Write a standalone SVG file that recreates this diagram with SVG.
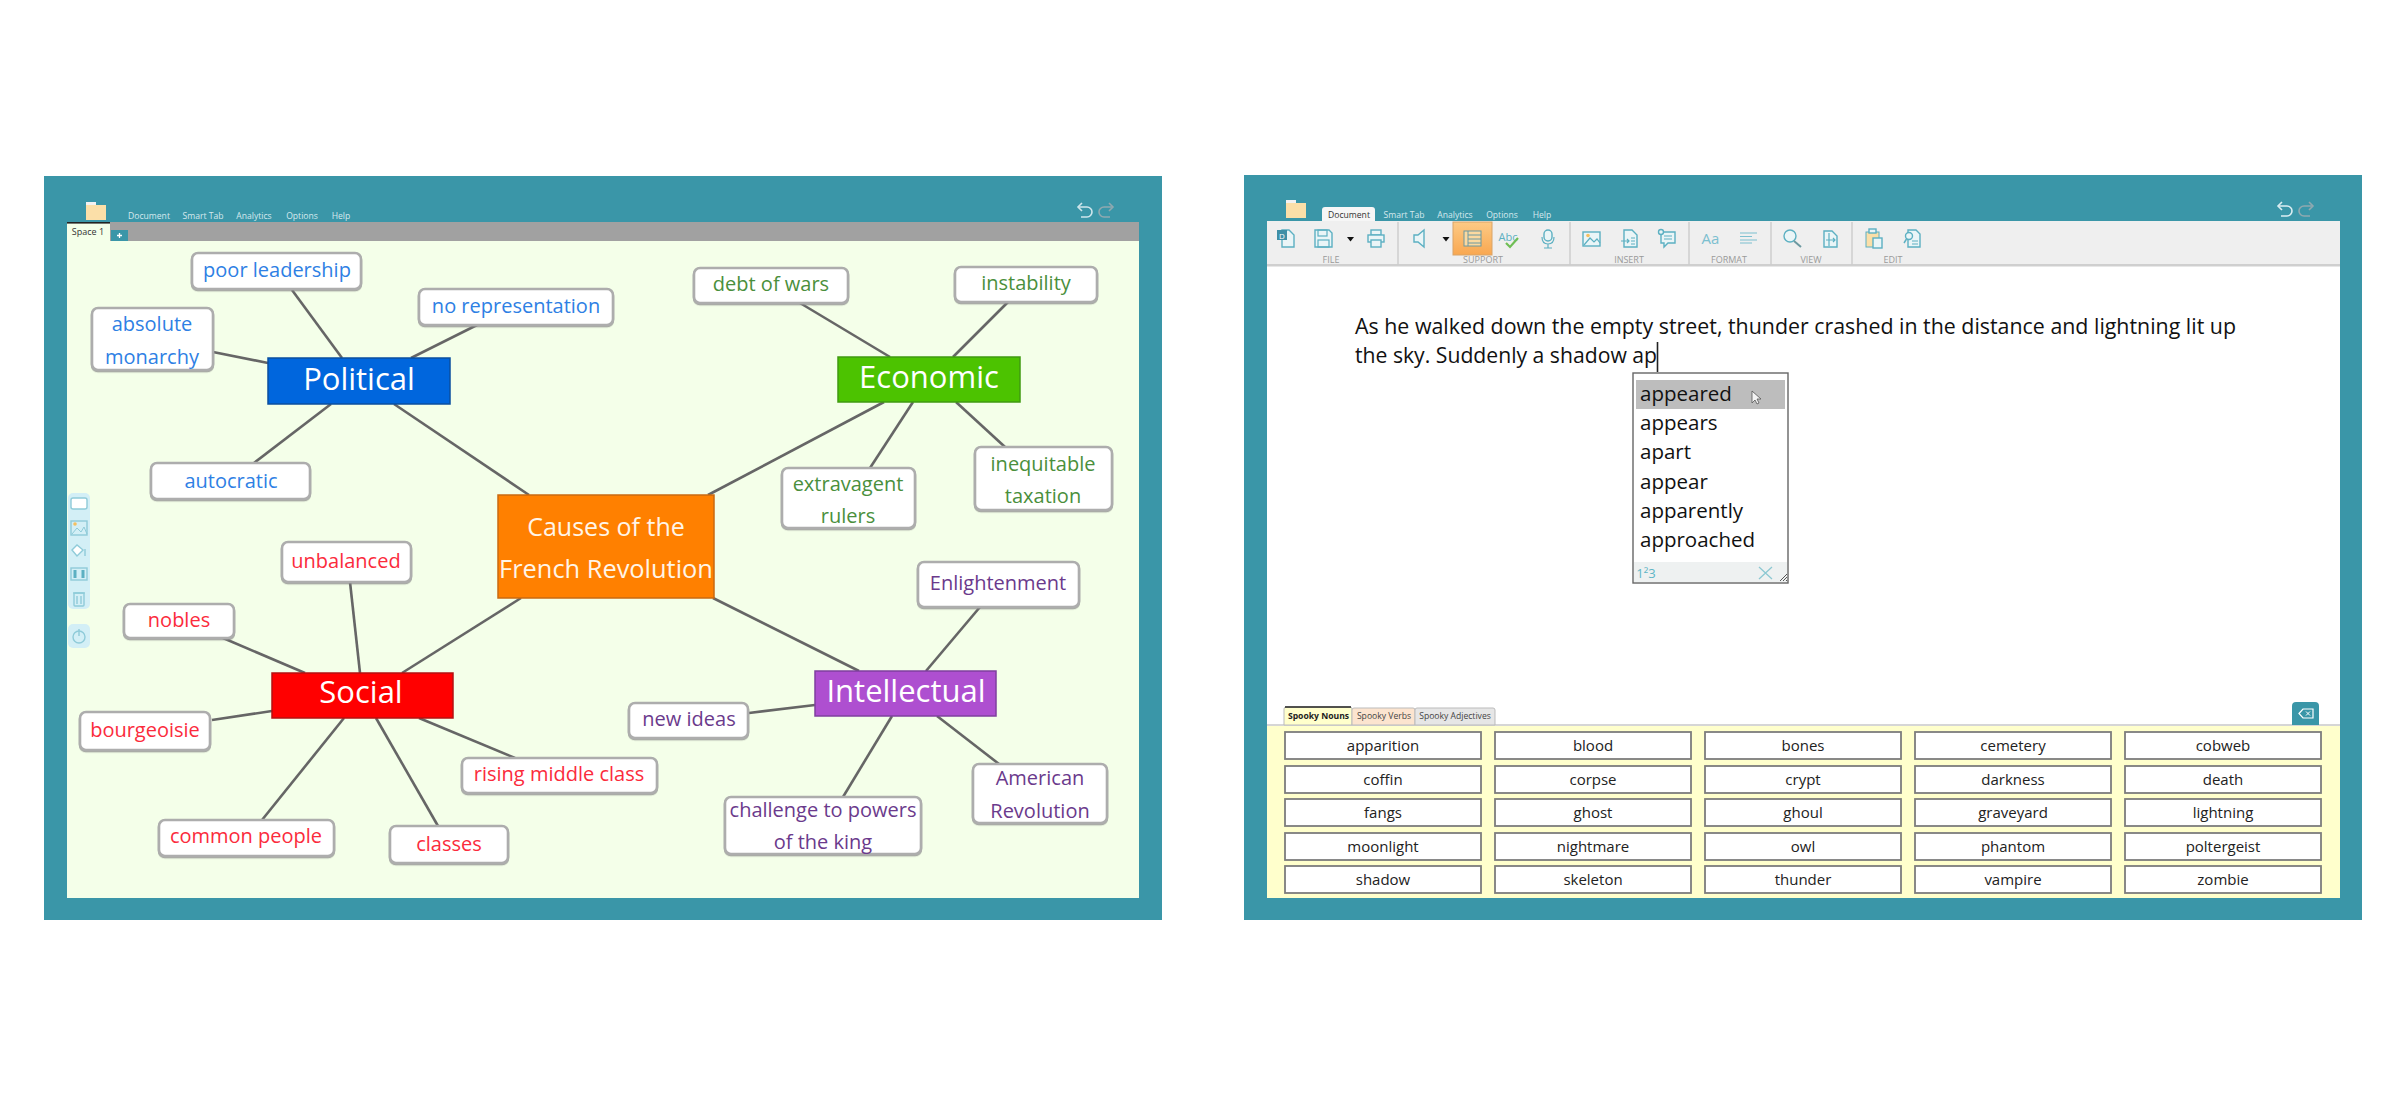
<svg xmlns="http://www.w3.org/2000/svg" width="2406" height="1094" viewBox="0 0 2406 1094">
<style>
text{font-family:"Open Sans","Noto Sans","Liberation Sans",sans-serif;text-anchor:middle}
.lab{font-size:20px}
.leaf{fill:#fff;stroke:#adadad;stroke-width:2.6;filter:url(#sh)}
.hubt{font-size:31px;fill:#fff}
.blue{fill:#2e80e4}.green{fill:#4a8f3c}.red{fill:#fb2b3c}.purple{fill:#6b3a8c}
.conn line{stroke:#666;stroke-width:2.6}
.menu{font-size:8.6px;fill:#d5e9ee}
.grp{font-size:9px;fill:#9a9a9a}
.ic{fill:#eaf5f7;stroke:#5cb0c2;stroke-width:1.4}
.in{fill:none;stroke:#5cb0c2;stroke-width:1.2}
.body{font-size:21px;fill:#111;text-anchor:start}
.sug{font-size:20.5px;fill:#111;text-anchor:start}
.btn{fill:#fff;stroke:#7d7d7d;stroke-width:1.8}
.w{font-size:15px;fill:#222}
.tab{font-size:8.6px;fill:#444}
.tb{fill:none;stroke:#8fcbd9;stroke-width:1.4}
</style>
<defs>
<filter id="sh" x="-5%" y="-10%" width="110%" height="125%"><feDropShadow dx="0" dy="1.2" stdDeviation=".6" flood-color="#888" flood-opacity=".7"/></filter>
<linearGradient id="hl" x1="0" y1="0" x2="0" y2="1"><stop offset="0" stop-color="#fdca85"/><stop offset="1" stop-color="#f9a750"/></linearGradient>
<g id="folder"><rect x="0" y="0" width="10" height="4" fill="#f2f2f2"/><rect x="0" y="3" width="20" height="15" fill="#fbdfa8"/></g>
<g id="undo" fill="none" stroke-width="1.6"><path d="M3 5H11A5 5 0 0 1 11 15H5"/><path d="M6 1L2 5L6 9"/></g>
<g id="redo" fill="none" stroke-width="1.6"><path d="M13 5H5A5 5 0 0 0 5 15H11"/><path d="M10 1L14 5L10 9"/></g>
<path id="tri" d="M-3.5 -2H3.5L0 2.5Z" fill="#111"/>
</defs>

<g id="left-window">
<rect x="44" y="176" width="1118" height="744" fill="#3a96a8"/>
<rect x="67" y="222" width="1072" height="676" fill="#f4ffe9"/>
<rect x="67" y="222" width="1072" height="19" fill="#a1a1a1"/>
<use href="#folder" x="86" y="202"/>
<text class="menu" x="149" y="219">Document</text>
<text class="menu" x="203" y="219">Smart Tab</text>
<text class="menu" x="254" y="219">Analytics</text>
<text class="menu" x="302" y="219">Options</text>
<text class="menu" x="341" y="219">Help</text>
<use href="#undo" x="1076" y="202" stroke="#cfe6ec"/>
<use href="#redo" x="1099" y="202" stroke="#8fa9b0"/>
<rect x="67" y="222" width="43" height="19" fill="#f4ffe9"/>
<rect x="67" y="222" width="43" height="1.6" fill="#222"/>
<text x="88" y="235" style="font-size:9px;fill:#333">Space 1</text>
<rect x="111" y="230" width="17" height="11" fill="#3a96a8"/>
<path d="M119.5 233V238M117 235.5H122" stroke="#fff" stroke-width="1.3"/>
<g id="side-tools">
<rect x="68" y="493" width="22" height="116" rx="5" fill="#d3eff6"/>
<rect x="68" y="624" width="22" height="24" rx="5" fill="#d3eff6"/>
<rect class="tb" x="71" y="498" width="16" height="11" rx="2" style="fill:#fff"/>
<rect class="tb" x="71" y="521" width="16" height="14"/>
<path d="M72 534L77 528L81 532L84 527L87 534" fill="none" stroke="#8fcbd9"/><circle cx="75" cy="524" r="1.8" fill="#f5c060"/>
<path class="tb" d="M72 550L77 545L83 550L77 556ZM85 549V556" style="fill:#fff"/>
<rect class="tb" x="71" y="568" width="16" height="12"/>
<path d="M75 570V578M83 570V578" stroke="#5cb0c2" stroke-width="3"/>
<rect class="tb" x="74" y="593" width="10" height="13" rx="1"/>
<path class="tb" d="M73 593H85M77 596V604M81 596V604"/>
<circle class="tb" cx="79" cy="637" r="6"/>
<path class="tb" d="M79 629V636"/>
</g>
</g>

<g id="connectors" class="conn">
<line x1="292" y1="290" x2="342" y2="358"/>
<line x1="477" y1="325" x2="411" y2="358"/>
<line x1="213" y1="352" x2="268" y2="363"/>
<line x1="331" y1="404" x2="254" y2="463"/>
<line x1="394" y1="404" x2="529" y2="495"/>
<line x1="800" y1="303" x2="890" y2="357"/>
<line x1="1008" y1="302" x2="953" y2="357"/>
<line x1="884" y1="402" x2="708" y2="495"/>
<line x1="913" y1="402" x2="870" y2="468"/>
<line x1="956" y1="402" x2="1005" y2="447"/>
<line x1="521" y1="598" x2="402" y2="673"/>
<line x1="713" y1="598" x2="859" y2="671"/>
<line x1="980" y1="607" x2="926" y2="671"/>
<line x1="350" y1="582" x2="360" y2="673"/>
<line x1="223" y1="638" x2="305" y2="673"/>
<line x1="212" y1="720" x2="272" y2="711"/>
<line x1="419" y1="718" x2="515" y2="758"/>
<line x1="344" y1="718" x2="262" y2="820"/>
<line x1="376" y1="718" x2="438" y2="826"/>
<line x1="749" y1="713" x2="815" y2="705"/>
<line x1="892" y1="716" x2="843" y2="797"/>
<line x1="937" y1="716" x2="999" y2="764"/>
</g>

<g id="node-causes"><rect x="498" y="495" width="216" height="103" fill="#ff8000" stroke="#c96a10" stroke-width="1.5"/><text x="606" y="536" style="font-size:25px;fill:#fff5e8">Causes of the</text><text x="606" y="578" style="font-size:25.4px;fill:#fff5e8">French Revolution</text></g>
<g id="node-political"><rect x="268" y="358" width="182" height="46" fill="#0066dd" stroke="#0a4f9f" stroke-width="1.5"/><text class="hubt" x="359" y="390">Political</text></g>
<g id="node-economic"><rect x="838" y="357" width="182" height="45" fill="#4cc300" stroke="#3f9a10" stroke-width="1.5"/><text class="hubt" x="929" y="388">Economic</text></g>
<g id="node-social"><rect x="272" y="673" width="181" height="45" fill="#ff0000" stroke="#b51010" stroke-width="1.5"/><text class="hubt" x="361" y="703">Social</text></g>
<g id="node-intellectual"><rect x="815" y="671" width="181" height="45" fill="#ae4fd0" stroke="#7f3f9f" stroke-width="1.5"/><text class="hubt" x="906" y="702">Intellectual</text></g>

<g id="node-poor-leadership"><rect class="leaf" x="192" y="253" width="169" height="36" rx="6"/><text class="lab blue" x="277" y="277">poor leadership</text></g>
<g id="node-no-representation"><rect class="leaf" x="419" y="289" width="194" height="36" rx="6"/><text class="lab blue" x="516" y="313">no representation</text></g>
<g id="node-absolute-monarchy"><rect class="leaf" x="92" y="308" width="121" height="62" rx="6"/><text class="lab blue" x="152" y="331">absolute</text><text class="lab blue" x="152" y="364">monarchy</text></g>
<g id="node-autocratic"><rect class="leaf" x="151" y="463" width="159" height="36" rx="6"/><text class="lab blue" x="231" y="488">autocratic</text></g>
<g id="node-debt-of-wars"><rect class="leaf" x="694" y="268" width="154" height="35" rx="6"/><text class="lab green" x="771" y="291">debt of wars</text></g>
<g id="node-instability"><rect class="leaf" x="955" y="267" width="142" height="35" rx="6"/><text class="lab green" x="1026" y="290">instability</text></g>
<g id="node-extravagent-rulers"><rect class="leaf" x="782" y="468" width="133" height="60" rx="6"/><text class="lab green" x="848" y="491">extravagent</text><text class="lab green" x="848" y="523">rulers</text></g>
<g id="node-inequitable-taxation"><rect class="leaf" x="975" y="447" width="137" height="63" rx="6"/><text class="lab green" x="1043" y="471">inequitable</text><text class="lab green" x="1043" y="503">taxation</text></g>
<g id="node-unbalanced"><rect class="leaf" x="282" y="542" width="129" height="40" rx="6"/><text class="lab red" x="346" y="568">unbalanced</text></g>
<g id="node-nobles"><rect class="leaf" x="124" y="604" width="110" height="34" rx="6"/><text class="lab red" x="179" y="627">nobles</text></g>
<g id="node-bourgeoisie"><rect class="leaf" x="80" y="712" width="130" height="38" rx="6"/><text class="lab red" x="145" y="737">bourgeoisie</text></g>
<g id="node-rising-middle-class"><rect class="leaf" x="462" y="758" width="195" height="35" rx="6"/><text class="lab red" x="559" y="781">rising middle class</text></g>
<g id="node-common-people"><rect class="leaf" x="159" y="820" width="175" height="36" rx="6"/><text class="lab red" x="246" y="843">common people</text></g>
<g id="node-classes"><rect class="leaf" x="390" y="826" width="118" height="37" rx="6"/><text class="lab red" x="449" y="851">classes</text></g>
<g id="node-enlightenment"><rect class="leaf" x="918" y="562" width="161" height="45" rx="6"/><text class="lab purple" x="998" y="590">Enlightenment</text></g>
<g id="node-new-ideas"><rect class="leaf" x="629" y="703" width="119" height="35" rx="6"/><text class="lab purple" x="689" y="726">new ideas</text></g>
<g id="node-challenge"><rect class="leaf" x="725" y="797" width="196" height="57" rx="6"/><text class="lab purple" x="823" y="817">challenge to powers</text><text class="lab purple" x="823" y="849">of the king</text></g>
<g id="node-american-revolution"><rect class="leaf" x="973" y="764" width="134" height="59" rx="6"/><text class="lab purple" x="1040" y="785">American</text><text class="lab purple" x="1040" y="818">Revolution</text></g>

<g id="right-window">
<rect x="1244" y="175" width="1118" height="745" fill="#3a96a8"/>
<rect x="1267" y="221" width="1073" height="504" fill="#fff"/>
<rect x="1267" y="221" width="1073" height="43" fill="#efefef"/>
<rect x="1267" y="264" width="1073" height="2.5" fill="#cfcfcf"/>
<use href="#folder" x="1286" y="200"/>
<path d="M1322 221V210Q1322 207 1325 207H1372Q1375 207 1375 210V221Z" fill="#f6f6f6"/>
<text x="1349" y="218" style="font-size:8.6px;fill:#333">Document</text>
<text class="menu" x="1404" y="218">Smart Tab</text>
<text class="menu" x="1455" y="218">Analytics</text>
<text class="menu" x="1502" y="218">Options</text>
<text class="menu" x="1542" y="218">Help</text>
<use href="#undo" x="2276" y="201" stroke="#dbeef2"/>
<use href="#redo" x="2299" y="201" stroke="#8fa9b0"/>
<g id="ribbon">
<path d="M1398 222V265M1570 222V265M1689 222V265M1771 222V265M1852 222V265" stroke="#cccccc" stroke-width="1.4"/>
<rect x="1453" y="222" width="39" height="33" fill="url(#hl)" stroke="#d9a469"/>
<text class="grp" x="1331" y="263">FILE</text><text class="grp" x="1483" y="263">SUPPORT</text><text class="grp" x="1629" y="263">INSERT</text><text class="grp" x="1729" y="263">FORMAT</text><text class="grp" x="1811" y="263">VIEW</text><text class="grp" x="1893" y="263">EDIT</text>
<path class="ic" d="M1282 230H1289L1294 235V247H1282Z"/><rect x="1277" y="230" width="10" height="10" fill="#3f8fa6"/><text x="1282" y="238.5" style="font-size:8px;fill:#fff">D</text>
<path class="ic" d="M1315 230H1329L1332 233V247H1315Z"/><rect class="in" x="1318" y="230" width="9" height="6"/><rect class="in" x="1318" y="240" width="11" height="7"/>
<use href="#tri" x="1350.5" y="239"/>
<rect class="ic" x="1371" y="230" width="10" height="5"/><rect class="ic" x="1368" y="235" width="16" height="7"/><rect class="ic" x="1371" y="240" width="10" height="7"/>
<path class="ic" d="M1414 235H1418L1424 230V247L1418 242H1414Z"/>
<use href="#tri" x="1446" y="239"/>
<rect x="1464" y="231" width="17" height="15" fill="#fbd9a0" stroke="#6c98a0"/><path d="M1468 231V246M1468 235H1481M1468 239H1481M1468 243H1481" stroke="#6c98a0"/>
<text x="1508" y="241" style="font-size:11px;fill:#5cb0c2">Abc</text><path d="M1506 243L1510 247L1518 238" fill="none" stroke="#6fbe55" stroke-width="2.2"/>
<rect class="ic" x="1544" y="230" width="8" height="11" rx="4"/><path class="in" d="M1542 237Q1542 244 1548 244Q1554 244 1554 237M1548 244V248M1544 248H1552"/>
<rect class="ic" x="1583" y="232" width="17" height="14"/><path class="in" d="M1584 245L1590 238L1594 242L1597 239L1600 243"/><circle cx="1588" cy="235.5" r="1.8" fill="#f5c060"/>
<path class="ic" d="M1624 230H1632L1637 235V247H1624Z"/><path class="in" d="M1621 241H1629M1627 239L1629 241L1627 243M1631 238H1635M1631 241H1635M1631 244H1635"/>
<path class="ic" d="M1661 232H1675V243H1668L1664 247V243H1661Z"/><circle class="ic" cx="1661" cy="232" r="2.5"/><path class="in" d="M1664 236H1672M1664 239H1672"/>
<text x="1710.5" y="244" style="font-size:15px;fill:#7cc0d0">Aa</text>
<path d="M1740 233H1757M1740 236.5H1752M1740 240H1757M1740 243H1752" stroke="#7cc0d0" stroke-width="1.2"/>
<circle class="ic" cx="1790" cy="236" r="6"/><path d="M1794 241L1801 247" stroke="#6c98a0" stroke-width="2"/>
<path class="ic" d="M1824 231H1832L1837 236V247H1824Z"/><path class="in" d="M1829 233V246M1826 240H1835M1833 238L1835 240L1833 242"/>
<rect x="1866" y="232" width="13" height="15" fill="#fbdfa8" stroke="#5cb0c2"/><rect class="ic" x="1869" y="229" width="7" height="4"/><rect class="ic" x="1873" y="238" width="9" height="10"/>
<path class="ic" d="M1908 230H1916L1920 234V247H1908Z"/><circle class="ic" cx="1909" cy="236" r="3.5"/><path d="M1906.5 239L1904 243" stroke="#5cb0c2" stroke-width="1.5"/><path class="in" d="M1912 241H1918M1912 244H1918"/>
</g>
<text class="body" x="1355" y="334" textLength="881" lengthAdjust="spacingAndGlyphs">As he walked down the empty street, thunder crashed in the distance and lightning lit up</text>
<text class="body" x="1355" y="363" textLength="302" lengthAdjust="spacingAndGlyphs">the sky. Suddenly a shadow ap</text>
<path d="M1657.5 342V372" stroke="#222" stroke-width="1.6"/>
<g id="suggestions">
<rect x="1633" y="373" width="155" height="210" fill="#fff" stroke="#666" stroke-width="1.4"/>
<rect x="1636" y="380" width="149" height="29" fill="#bdbdbd"/>
<text class="sug" x="1640" y="401">appeared</text><text class="sug" x="1640" y="430">appears</text><text class="sug" x="1640" y="459">apart</text><text class="sug" x="1640" y="489">appear</text><text class="sug" x="1640" y="518">apparently</text><text class="sug" x="1640" y="547">approached</text>
<path d="M1752 391V403L1755 400L1757 404L1759 403L1757 399L1761 399Z" fill="#f4f4f4" stroke="#555" stroke-width=".8"/>
<rect x="1634" y="562" width="153" height="20" fill="#eef1f1"/>
<text x="1646" y="578" style="font-size:13px;fill:#5fb6c6">1²3</text>
<path d="M1759 567L1772 579M1772 567L1759 579" stroke="#8cc8d2" stroke-width="1.3"/>
<path d="M1780 581L1787 574M1783 581L1787 577M1786 581L1787 580" stroke="#555"/>
</g>
<rect x="1267" y="725" width="1073" height="173" fill="#ffffcc"/>
<rect x="1267" y="724" width="1073" height="2" fill="#d6d6d6"/>
<g id="word-tabs">
<path d="M1284 725V709Q1284 707 1286 707H1350Q1352 707 1352 709V725Z" fill="#ffffcc" stroke="#bbb"/><path d="M1285 707H1351" stroke="#222" stroke-width="1.4"/>
<path d="M1352 725V710Q1352 708 1354 708H1413Q1415 708 1415 710V725Z" fill="#fce4cf" stroke="#bbb"/>
<path d="M1415 725V710Q1415 708 1417 708H1493Q1495 708 1495 710V725Z" fill="#e6e6e6" stroke="#bbb"/>
<text class="tab" x="1318.5" y="719" style="font-weight:700;fill:#222">Spooky Nouns</text><text class="tab" x="1384" y="719">Spooky Verbs</text><text class="tab" x="1455" y="719">Spooky Adjectives</text>
<path d="M2292 725V706Q2292 702 2296 702H2315Q2319 702 2319 706V725Z" fill="#3a96a8"/>
<path d="M2299 713.5L2303 709H2313V718H2303Z" fill="none" stroke="#fff" stroke-width="1.2"/><path d="M2306 711.5L2310 715.5M2310 711.5L2306 715.5" stroke="#fff"/>
</g>
<g id="word-bank">
<g><rect class="btn" x="1285" y="732" width="196" height="27"/><text class="w" x="1383" y="751">apparition</text><rect class="btn" x="1495" y="732" width="196" height="27"/><text class="w" x="1593" y="751">blood</text><rect class="btn" x="1705" y="732" width="196" height="27"/><text class="w" x="1803" y="751">bones</text><rect class="btn" x="1915" y="732" width="196" height="27"/><text class="w" x="2013" y="751">cemetery</text><rect class="btn" x="2125" y="732" width="196" height="27"/><text class="w" x="2223" y="751">cobweb</text></g>
<g><rect class="btn" x="1285" y="766" width="196" height="27"/><text class="w" x="1383" y="785">coffin</text><rect class="btn" x="1495" y="766" width="196" height="27"/><text class="w" x="1593" y="785">corpse</text><rect class="btn" x="1705" y="766" width="196" height="27"/><text class="w" x="1803" y="785">crypt</text><rect class="btn" x="1915" y="766" width="196" height="27"/><text class="w" x="2013" y="785">darkness</text><rect class="btn" x="2125" y="766" width="196" height="27"/><text class="w" x="2223" y="785">death</text></g>
<g><rect class="btn" x="1285" y="799" width="196" height="27"/><text class="w" x="1383" y="818">fangs</text><rect class="btn" x="1495" y="799" width="196" height="27"/><text class="w" x="1593" y="818">ghost</text><rect class="btn" x="1705" y="799" width="196" height="27"/><text class="w" x="1803" y="818">ghoul</text><rect class="btn" x="1915" y="799" width="196" height="27"/><text class="w" x="2013" y="818">graveyard</text><rect class="btn" x="2125" y="799" width="196" height="27"/><text class="w" x="2223" y="818">lightning</text></g>
<g><rect class="btn" x="1285" y="833" width="196" height="27"/><text class="w" x="1383" y="852">moonlight</text><rect class="btn" x="1495" y="833" width="196" height="27"/><text class="w" x="1593" y="852">nightmare</text><rect class="btn" x="1705" y="833" width="196" height="27"/><text class="w" x="1803" y="852">owl</text><rect class="btn" x="1915" y="833" width="196" height="27"/><text class="w" x="2013" y="852">phantom</text><rect class="btn" x="2125" y="833" width="196" height="27"/><text class="w" x="2223" y="852">poltergeist</text></g>
<g><rect class="btn" x="1285" y="866" width="196" height="27"/><text class="w" x="1383" y="885">shadow</text><rect class="btn" x="1495" y="866" width="196" height="27"/><text class="w" x="1593" y="885">skeleton</text><rect class="btn" x="1705" y="866" width="196" height="27"/><text class="w" x="1803" y="885">thunder</text><rect class="btn" x="1915" y="866" width="196" height="27"/><text class="w" x="2013" y="885">vampire</text><rect class="btn" x="2125" y="866" width="196" height="27"/><text class="w" x="2223" y="885">zombie</text></g>
</g>
</g>
</svg>
